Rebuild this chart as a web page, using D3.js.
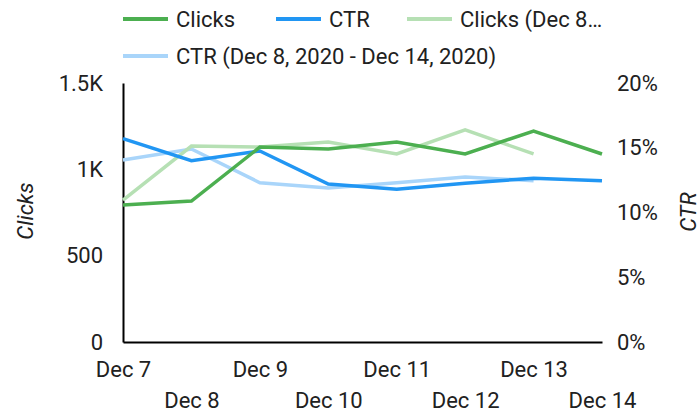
<!DOCTYPE html>
<html>
<head>
<meta charset="utf-8">
<script src="https://cdn.jsdelivr.net/npm/d3@7"></script>
<style>
  body { margin: 0; background: #fff; }
  text { font-family: Roboto, sans-serif; fill: #212121; }
</style>
</head>
<body>
<div id="chart"></div>
<script>
//Width and height
var w = 700;
var h = 414;
var fs = "22px";

// Data
var days = ["Dec 7", "Dec 8", "Dec 9", "Dec 10", "Dec 11", "Dec 12", "Dec 13", "Dec 14"];
var clicks = [793, 816, 1129, 1118, 1158, 1089, 1222, 1089];
var ctr = [15.7, 14.0, 14.75, 12.2, 11.8, 12.25, 12.65, 12.45];
var clicksPrev = [822, 1135, 1129, 1158, 1089, 1228, 1089];
var ctrPrev = [14.05, 14.9, 12.3, 11.9, 12.3, 12.75, 12.45];
var leftTicks = [0, 500, 1000, 1500];
var leftTickLabels = ["0", "500", "1K", "1.5K"];
var rightTicks = [0, 5, 10, 15, 20];

var series = [
  {name: "Clicks", values: clicks, axis: "left", color: "#4caf50"},
  {name: "CTR", values: ctr, axis: "right", color: "#2196f3"},
  {name: "Clicks (Dec 8…", values: clicksPrev, axis: "left", color: "#b6e0b4"},
  {name: "CTR (Dec 8, 2020 - Dec 14, 2020)", values: ctrPrev, axis: "right", color: "#a9d5fa"}
];

var margin = {left: 123, right: 98, top: 83, bottom: 72};

//Scales
var x = d3.scalePoint()
          .domain(days)
          .range([margin.left, w - margin.right]);

var yLeft = d3.scaleLinear()
              .domain([0, 1500])
              .range([h - margin.bottom, margin.top]);

var yRight = d3.scaleLinear()
               .domain([0, 20])
               .range([h - margin.bottom, margin.top]);

//Create SVG element
var svg = d3.select("#chart")
            .append("svg")
            .attr("width", w)
            .attr("height", h);

// Left axis
var leftAxis = svg.append("g")
   .attr("transform", "translate(" + margin.left + ",0)")
   .call(d3.axisLeft(yLeft).tickValues(leftTicks)
        .tickFormat(function(d, i) { return leftTickLabels[i]; })
        .tickSize(0).tickPadding(20));
leftAxis.select(".domain").attr("stroke", "#000").attr("stroke-width", 2);
leftAxis.selectAll("text").style("font-size", fs).attr("fill", "#212121");

// Right axis (labels only)
var rightAxis = svg.append("g")
   .attr("transform", "translate(" + (w - margin.right) + ",0)")
   .call(d3.axisRight(yRight).tickValues(rightTicks)
        .tickFormat(function(d) { return d + "%"; })
        .tickSize(0).tickPadding(15));
rightAxis.select(".domain").remove();
rightAxis.selectAll("text").style("font-size", fs).attr("fill", "#212121");

// Bottom axis, labels staggered on two rows
var bottomAxis = svg.append("g")
   .attr("transform", "translate(0," + (h - margin.bottom) + ")")
   .call(d3.axisBottom(x).tickSize(0).tickPadding(0));
bottomAxis.select(".domain").attr("stroke", "#000").attr("stroke-width", 2);
bottomAxis.selectAll("text")
   .style("font-size", fs)
   .attr("fill", "#212121")
   .attr("dy", function(d, i) { return i % 2 == 0 ? 35 : 66; });

// Axis titles
svg.append("text")
   .attr("transform", "translate(33,211) rotate(-90)")
   .attr("text-anchor", "middle")
   .style("font-size", fs)
   .style("font-style", "italic")
   .text("Clicks");

svg.append("text")
   .attr("transform", "translate(696,212) rotate(-90)")
   .attr("text-anchor", "middle")
   .style("font-size", fs)
   .style("font-style", "italic")
   .text("CTR");

// Lines, previous period underneath
var drawOrder = [3, 2, 1, 0];
drawOrder.forEach(function(k) {
  var s = series[k];
  var yScale = s.axis == "left" ? yLeft : yRight;
  var line = d3.line()
               .x(function(d, i) { return x(days[i]); })
               .y(function(d) { return yScale(d); });
  svg.append("path")
     .datum(s.values)
     .attr("d", line)
     .attr("fill", "none")
     .attr("stroke", s.color)
     .attr("stroke-width", 3.5)
     .attr("stroke-linejoin", "miter");
});

// Legend
var legendPos = [[123, 19], [276, 19], [407, 19], [123, 56]];
var legend = svg.selectAll(".legend")
   .data(series)
   .enter()
   .append("g")
   .attr("class", "legend")
   .attr("transform", function(d, i) { return "translate(" + legendPos[i][0] + "," + legendPos[i][1] + ")"; });

legend.append("line")
   .attr("x1", 0).attr("x2", 45)
   .attr("stroke", function(d) { return d.color; })
   .attr("stroke-width", 4);

legend.append("text")
   .attr("x", 53)
   .attr("dy", "0.35em")
   .style("font-size", fs)
   .text(function(d) { return d.name; });
</script>
</body>
</html>
